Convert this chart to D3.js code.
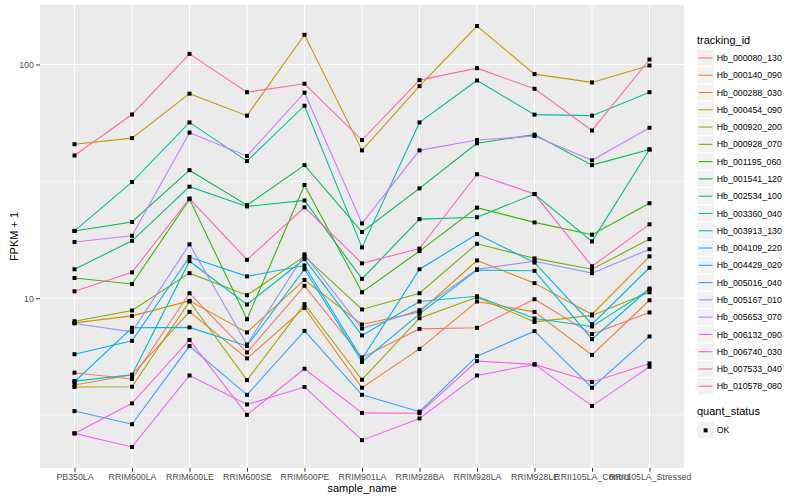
<!DOCTYPE html>
<html lang="en">
<head>
<meta charset="UTF-8">
<title>FPKM by sample</title>
<script src="https://cdn.jsdelivr.net/npm/d3@7/dist/d3.min.js"></script>
<style>
  body { margin: 0; padding: 0; background: #fff; }
  text { font-family: "Liberation Sans", Arial, sans-serif; }
  .axis-label { fill: #4d4d4d; font-size: 8.8px; }
  .title { fill: #000; font-size: 11px; }
  .legend-text { fill: #000; font-size: 8.8px; }
</style>
</head>
<body>
<svg width="800" height="500"></svg>
<script>
// samples on the x axis
var samples = ["PB350LA", "RRIM600LA", "RRIM600LE", "RRIM600SE", "RRIM600PE", "RRIM901LA",
               "RRIM928BA", "RRIM928LA", "RRIM928LE", "RRII105LA_Control", "RRII105LA_Stressed"];

var trackingIds = ["Hb_000080_130", "Hb_000140_090", "Hb_000288_030", "Hb_000454_090", "Hb_000920_200",
                   "Hb_000928_070", "Hb_001195_060", "Hb_001541_120", "Hb_002534_100", "Hb_003360_040",
                   "Hb_003913_130", "Hb_004109_220", "Hb_004429_020", "Hb_005016_040", "Hb_005167_010",
                   "Hb_005653_070", "Hb_006132_090", "Hb_006740_030", "Hb_007533_040", "Hb_010578_080"];

// FPKM + 1, one row per tracking id, in sample order
var fpkm = [
  [4.80, 4.51, 10.5, 5.86, 11.3, 5.58, 7.39, 7.47, 9.90, 7.02, 8.69],
  [4.25, 4.70, 8.74, 5.53, 9.09, 4.14, 6.07, 9.68, 8.74, 5.72, 9.80],
  [7.84, 8.40, 9.74, 7.14, 11.97, 7.72, 8.74, 14.5, 11.6, 8.52, 15.1],
  [45.6, 48.4, 75.0, 60.4, 134, 42.9, 80.8, 146, 90.9, 83.8, 99.0],
  [4.17, 4.18, 9.68, 4.46, 9.43, 4.48, 8.21, 10.1, 7.92, 8.44, 10.6],
  [7.97, 8.86, 12.8, 10.3, 15.1, 8.95, 10.5, 17.1, 14.8, 13.3, 17.9],
  [12.2, 11.5, 26.5, 8.13, 30.5, 10.6, 15.9, 24.4, 21.1, 18.7, 25.5],
  [19.4, 21.2, 35.3, 25.0, 37.1, 19.2, 29.5, 46.0, 50.1, 37.1, 43.3],
  [13.3, 17.6, 30.0, 24.7, 26.2, 12.1, 21.8, 22.2, 27.9, 17.5, 43.3],
  [19.4, 31.4, 56.5, 38.6, 66.6, 16.5, 56.5, 85.4, 61.0, 60.4, 76.1],
  [4.42, 4.70, 14.4, 9.40, 14.7, 6.93, 9.68, 10.2, 8.19, 7.57, 10.9],
  [4.39, 7.47, 7.50, 6.25, 13.3, 5.34, 8.57, 13.2, 13.1, 6.68, 11.0],
  [5.76, 6.57, 15.0, 12.4, 13.8, 5.49, 13.3, 18.8, 14.2, 7.74, 13.5],
  [3.29, 2.89, 6.24, 3.86, 7.25, 3.86, 3.27, 5.65, 7.23, 4.14, 6.86],
  [7.80, 7.18, 17.0, 6.34, 15.4, 7.42, 8.89, 13.3, 14.4, 12.8, 16.2],
  [17.4, 18.5, 51.1, 40.6, 75.7, 20.9, 42.9, 47.5, 49.4, 38.9, 53.6],
  [2.64, 2.31, 4.67, 3.51, 4.17, 2.47, 3.06, 4.67, 5.21, 3.46, 5.09],
  [2.64, 3.55, 6.63, 3.17, 4.99, 3.23, 3.22, 5.38, 5.21, 4.38, 5.26],
  [10.7, 12.9, 26.7, 14.6, 24.5, 14.1, 16.3, 33.9, 27.9, 13.7, 20.7],
  [40.8, 61.1, 111, 76.1, 82.7, 47.5, 85.7, 96.4, 78.7, 52.2, 105]
];

var yTicks = [10, 100];
var yMinor = [Math.sqrt(10), Math.sqrt(1000)];
var quantStatus = ["OK"];

// ggplot-like hue palette (polar Luv)
function hclLuv(h, c, l) {
  var hr = h * Math.PI / 180;
  var U = c * Math.cos(hr), V = c * Math.sin(hr);
  var Xn = 95.047, Yn = 100, Zn = 108.883;
  var den = Xn + 15 * Yn + 3 * Zn;
  var un = 4 * Xn / den, vn = 9 * Yn / den;
  var Y = Yn * (l > 8 ? Math.pow((l + 16) / 116, 3) : l / 903.3);
  var u = U / (13 * l) + un, v = V / (13 * l) + vn;
  var X = 9 * Y * u / (4 * v);
  var Z = -X / 3 - 5 * Y + 3 * Y / v;
  var x = X / 100, y = Y / 100, z = Z / 100;
  var rgb = [
    3.240479 * x - 1.537150 * y - 0.498535 * z,
    -0.969256 * x + 1.875992 * y + 0.041556 * z,
    0.055648 * x - 0.204043 * y + 1.057311 * z
  ].map(function(t) {
    t = t <= 0.0031308 ? 12.92 * t : 1.055 * Math.pow(t, 1 / 2.4) - 0.055;
    return Math.round(Math.max(0, Math.min(1, t)) * 255);
  });
  return d3.rgb(rgb[0], rgb[1], rgb[2]).formatHex();
}
var colors = trackingIds.map(function(d, i) {
  return hclLuv(15 + i * 360 / trackingIds.length, 100, 65);
});

var panel = {left: 40, right: 684, top: 5, bottom: 468};
var svg = d3.select('svg');
svg.append('rect').attr('width', 800).attr('height', 500).attr('fill', '#fff');

var x = d3.scalePoint().domain(samples).range([panel.left, panel.right]).padding(0.6);

var all = d3.merge(fpkm);
var lmin = Math.log10(d3.min(all)), lmax = Math.log10(d3.max(all));
var pad = (lmax - lmin) * 0.05;
var y = d3.scaleLog()
  .domain([Math.pow(10, lmin - pad), Math.pow(10, lmax + pad)])
  .range([panel.bottom, panel.top]);

// panel background + grid
svg.append('rect')
  .attr('x', panel.left).attr('y', panel.top)
  .attr('width', panel.right - panel.left).attr('height', panel.bottom - panel.top)
  .attr('fill', '#ebebeb');

svg.append('g').selectAll('line').data(yMinor).enter().append('line')
  .attr('x1', panel.left).attr('x2', panel.right)
  .attr('y1', function(d) { return y(d); }).attr('y2', function(d) { return y(d); })
  .attr('stroke', '#fff').attr('stroke-width', 0.55);

svg.append('g').selectAll('line').data(yTicks).enter().append('line')
  .attr('x1', panel.left).attr('x2', panel.right)
  .attr('y1', function(d) { return y(d); }).attr('y2', function(d) { return y(d); })
  .attr('stroke', '#fff').attr('stroke-width', 1.1);

svg.append('g').selectAll('line').data(samples).enter().append('line')
  .attr('x1', function(d) { return x(d); }).attr('x2', function(d) { return x(d); })
  .attr('y1', panel.top).attr('y2', panel.bottom)
  .attr('stroke', '#fff').attr('stroke-width', 1.1);

// lines
var line = d3.line()
  .x(function(d, i) { return x(samples[i]); })
  .y(function(d) { return y(d); });

svg.append('g').selectAll('path').data(fpkm).enter().append('path')
  .attr('d', line)
  .attr('fill', 'none')
  .attr('stroke', function(d, i) { return colors[i]; })
  .attr('stroke-width', 1.1);

// points
var pts = [];
fpkm.forEach(function(row) {
  row.forEach(function(v, j) { pts.push({s: samples[j], v: v}); });
});
svg.append('g').selectAll('rect').data(pts).enter().append('rect')
  .attr('x', function(d) { return x(d.s) - 2; })
  .attr('y', function(d) { return y(d.v) - 2; })
  .attr('width', 4).attr('height', 4)
  .attr('fill', '#000');

// axes
var xAxis = d3.axisBottom(x).tickSize(3.7).tickPadding(2.5);
var gx = svg.append('g').attr('transform', 'translate(0,' + panel.bottom + ')').call(xAxis);
gx.select('.domain').remove();
gx.selectAll('line').attr('stroke', '#333');
gx.selectAll('text').attr('class', 'axis-label').attr('fill', null).style('font-size', null).attr('font-family', null);

var yAxis = d3.axisLeft(y).tickValues(yTicks).tickFormat(d3.format('d')).tickSize(3.7).tickPadding(2.5);
var gy = svg.append('g').attr('transform', 'translate(' + panel.left + ',0)').call(yAxis);
gy.select('.domain').remove();
gy.selectAll('line').attr('stroke', '#333');
gy.selectAll('text').attr('class', 'axis-label').attr('fill', null).attr('font-family', null);

svg.selectAll('.tick text').attr('font-size', null);
gx.attr('font-size', null).attr('font-family', null);
gy.attr('font-size', null).attr('font-family', null);

svg.append('text').attr('class', 'title')
  .attr('x', (panel.left + panel.right) / 2).attr('y', 492)
  .attr('text-anchor', 'middle').text('sample_name');

svg.append('text').attr('class', 'title')
  .attr('transform', 'translate(18,' + ((panel.top + panel.bottom) / 2) + ') rotate(-90)')
  .attr('text-anchor', 'middle').text('FPKM + 1');

// legend: tracking_id
var lx = 697, ly = 49.3, key = 17.28;
svg.append('text').attr('class', 'title').attr('x', lx).attr('y', 43.5).text('tracking_id');
var lg = svg.append('g').selectAll('g').data(trackingIds).enter().append('g')
  .attr('transform', function(d, i) { return 'translate(' + lx + ',' + (ly + i * key) + ')'; });
lg.append('rect').attr('width', key).attr('height', key)
  .attr('fill', '#f2f2f2').attr('stroke', '#fff').attr('stroke-width', 1);
lg.append('line').attr('x1', 1.7).attr('x2', key - 1.7)
  .attr('y1', key / 2).attr('y2', key / 2)
  .attr('stroke', function(d, i) { return colors[i]; }).attr('stroke-width', 1.1);
lg.append('text').attr('class', 'legend-text')
  .attr('x', key + 2.5).attr('y', key / 2 + 3.1).text(function(d) { return d; });

// legend: quant_status
var qy = 421.7;
svg.append('text').attr('class', 'title').attr('x', lx).attr('y', 415).text('quant_status');
var qg = svg.append('g').selectAll('g').data(quantStatus).enter().append('g')
  .attr('transform', function(d, i) { return 'translate(' + lx + ',' + (qy + i * key) + ')'; });
qg.append('rect').attr('width', key).attr('height', key)
  .attr('fill', '#f2f2f2').attr('stroke', '#fff').attr('stroke-width', 1);
qg.append('rect').attr('x', key / 2 - 2).attr('y', key / 2 - 2).attr('width', 4).attr('height', 4).attr('fill', '#000');
qg.append('text').attr('class', 'legend-text')
  .attr('x', key + 2.5).attr('y', key / 2 + 3.1).text(function(d) { return d; });
</script>
</body>
</html>
